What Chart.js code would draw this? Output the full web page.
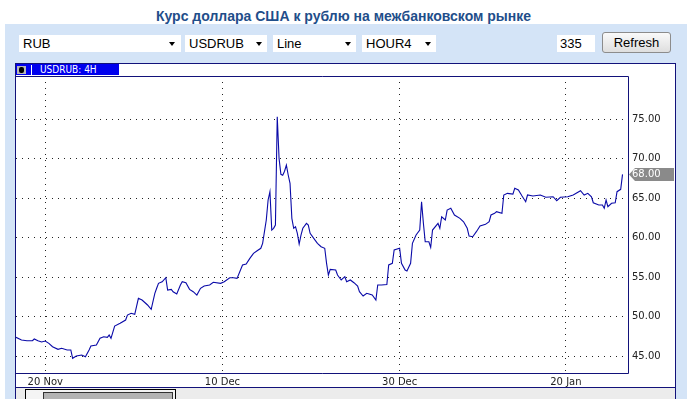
<!DOCTYPE html>
<html>
<head>
<meta charset="utf-8">
<script src="https://cdn.jsdelivr.net/npm/chart.js@4.4.1/dist/chart.umd.min.js"></script>
<style>
body { margin: 0; width: 687px; height: 399px; overflow: hidden; position: relative; background: #fff; font-family: Arial, "Liberation Sans", sans-serif; }
#title { position: absolute; left: 0; top: 8px; width: 687px; text-align: center; font: bold 14px Arial, "Liberation Sans", sans-serif; color: #1f4e8a; }
#blue { position: absolute; left: 5px; top: 24px; width: 682px; height: 375px; background: #d4e4f7; }
.sel, .inp { position: absolute; top: 35px; height: 17px; background: #fff; font-size: 13px; line-height: 17px; color: #000; }
.sel span, .inp span { position: absolute; left: 4px; top: 0; }
.arr { position: absolute; top: 7px; width: 0; height: 0; border-left: 3.5px solid transparent; border-right: 3.5px solid transparent; border-top: 4px solid #000; }
#btn { position: absolute; left: 602px; top: 32px; width: 69px; height: 21px; box-sizing: border-box; border: 1px solid #8c8c8c; border-radius: 3px; background: linear-gradient(#fafafa, #dedede); font-size: 13px; line-height: 19px; text-align: center; color: #000; }
#panel { position: absolute; left: 15px; top: 63px; width: 661px; height: 400px; box-sizing: border-box; border: 1px solid #12127a; background: #fff; }
#head { position: absolute; left: 16px; top: 64px; width: 103px; height: 11px; background: #0000ee; }
#icon { position: absolute; left: 17px; top: 66px; width: 9px; height: 8px; background: #b8b8b8; }
#icon i { position: absolute; left: 2px; top: 1px; width: 5px; height: 6px; border-radius: 2px; background: #000; }
#sep { position: absolute; left: 31px; top: 65px; width: 1px; height: 10px; background: #fff; }
#htxt { position: absolute; left: 40px; top: 63px; font: 10px "DejaVu Sans Condensed", "DejaVu Sans", sans-serif; line-height: 13px; color: #fff; }
#c { position: absolute; left: 16px; top: 76px; }
#scroll { position: absolute; left: 16px; top: 387px; width: 659px; height: 12px; border-top: 1px solid #12127a; background: #ececec; }
#thumb { position: absolute; left: 25px; top: 389px; width: 151px; height: 12px; box-sizing: border-box; border: 1px solid #000; background: #f4f4f4; }
#thumb i { position: absolute; left: 17px; top: 2px; width: 130px; height: 8px; box-sizing: border-box; border: 1px solid #333; background: #b4b4b4; }
</style>
</head>
<body>
<div id="title">Курс доллара США к рублю на межбанковском рынке</div>
<div id="blue"></div>
<div class="sel" style="left:19px;width:162px"><span>RUB</span><div class="arr" style="left:150px"></div></div>
<div class="sel" style="left:185px;width:82px"><span>USDRUB</span><div class="arr" style="left:71px"></div></div>
<div class="sel" style="left:273px;width:83px"><span>Line</span><div class="arr" style="left:72px"></div></div>
<div class="sel" style="left:362px;width:74px"><span>HOUR4</span><div class="arr" style="left:63px"></div></div>
<div class="inp" style="left:557px;width:38px"><span style="left:3px">335</span></div>
<div id="btn">Refresh</div>
<div id="panel"></div>
<div id="head"></div>
<div id="icon"><i></i></div>
<div id="sep"></div>
<div id="htxt">USDRUB: 4H</div>
<canvas id="c" width="659" height="311"></canvas>
<div id="scroll"></div>
<div id="thumb"><i></i></div>
<script>
// bar number (4H bars, 335 shown) and close price
var bars = [0, 3, 6, 9, 10, 12, 14, 16, 18, 20, 23, 25, 28, 30, 31, 33, 36, 38, 40, 41,
	44, 46, 48, 50, 51, 52, 54, 57, 60, 61, 63, 65, 67, 69, 72, 74, 76, 77, 78, 80,
	82, 83, 85, 86, 88, 90, 91, 93, 95, 97, 99, 101, 103, 106, 108, 112, 114, 117, 119, 121,
	124, 126, 128, 130, 132, 134, 135, 136, 137, 138, 139, 140, 141, 142, 143, 144, 145, 146, 147, 148,
	149, 150, 151, 152, 153, 154, 155, 156, 157, 159, 160, 161, 163, 165, 167, 169, 170, 171, 172, 175,
	176, 178, 180, 181, 183, 185, 187, 188, 190, 192, 195, 197, 198, 200, 203, 204, 206, 207, 210, 211,
	213, 214, 216, 217, 219, 221, 222, 223, 224, 226, 227, 228, 231, 232, 233, 235, 236, 238, 240, 243,
	245, 247, 248, 250, 252, 254, 257, 259, 260, 262, 263, 266, 267, 269, 272, 273, 275, 277, 279, 280,
	283, 287, 290, 294, 296, 298, 302, 305, 309, 311, 313, 315, 316, 319, 321, 322, 323, 324, 326, 328,
	329, 331, 332];
var closes = [47.39, 47.05, 46.96, 46.96, 47.18, 46.96, 46.80, 46.92, 46.63, 46.20, 45.87, 46.00, 45.79, 45.79, 44.74, 45.03, 45.15, 44.94, 45.79, 46.29,
	46.42, 47.27, 47.47, 47.39, 47.68, 47.27, 48.82, 49.16, 49.58, 50.21, 50.43, 50.30, 52.32, 52.11, 51.48, 50.93, 52.96, 53.59, 54.22, 54.42,
	54.93, 53.37, 53.46, 53.16, 52.87, 54.01, 54.42, 54.30, 53.46, 53.16, 52.74, 53.59, 53.88, 54.01, 54.35, 54.22, 54.42, 54.93, 54.93, 54.85,
	56.54, 56.66, 57.38, 58.01, 58.34, 58.65, 59.28, 60.75, 62.23, 64.76, 65.81, 60.96, 61.18, 61.59, 75.29, 70.00, 68.00, 67.90, 68.40, 69.18,
	67.92, 66.87, 62.44, 61.18, 61.38, 60.54, 59.19, 60.33, 61.18, 61.81, 61.59, 60.54, 59.91, 59.28, 58.85, 58.65, 56.75, 55.27, 55.99, 55.90,
	55.27, 54.64, 55.06, 54.42, 54.64, 54.30, 53.88, 53.16, 52.61, 52.96, 52.74, 52.11, 54.01, 54.01, 54.07, 56.54, 56.75, 58.43, 58.65, 56.75,
	55.90, 55.78, 56.75, 59.28, 60.33, 60.96, 64.54, 61.81, 59.48, 59.48, 58.77, 60.96, 61.81, 61.18, 62.64, 62.23, 63.49, 63.71, 62.86, 62.44,
	62.01, 61.18, 60.20, 60.11, 60.75, 61.47, 61.68, 62.01, 62.86, 63.07, 63.28, 63.07, 65.39, 65.60, 65.51, 66.24, 66.02, 65.26, 64.54, 65.39,
	65.26, 65.39, 65.10, 65.17, 64.67, 65.10, 65.17, 65.39, 65.93, 65.39, 65.60, 65.17, 64.41, 64.12, 64.12, 63.71, 64.76, 63.91, 64.34, 64.41,
	65.81, 66.11, 68.00];
var tickBars = [16, 113, 210, 301];
var tickLabels = ['20 Nov', '10 Dec', '30 Dec', '20 Jan'];
var priceTicks = [45, 50, 55, 60, 65, 70, 75];

var axisFont = {family: '"DejaVu Sans", sans-serif', size: 10};

// plot frame on top/right/bottom and the grey last-price tag
var framePlugin = {
	id: 'frame',
	afterDraw: function(chart) {
		var ctx = chart.ctx;
		var a = chart.chartArea;
		ctx.save();
		ctx.strokeStyle = '#12127a';
		ctx.lineWidth = 1;
		ctx.beginPath();
		ctx.moveTo(a.left, a.top + 0.5);
		ctx.lineTo(a.right + 0.5, a.top + 0.5);
		ctx.lineTo(a.right + 0.5, a.bottom + 0.5);
		ctx.lineTo(a.left, a.bottom + 0.5);
		ctx.stroke();

		var last = closes[closes.length - 1];
		var py = Math.round(chart.scales.y.getPixelForValue(last)) + 0.5;
		var x0 = a.right + 1;
		ctx.fillStyle = '#8a8a8a';
		ctx.beginPath();
		ctx.moveTo(x0, py);
		ctx.lineTo(x0 + 6, py - 6.5);
		ctx.lineTo(x0 + 45, py - 6.5);
		ctx.lineTo(x0 + 45, py + 6.5);
		ctx.lineTo(x0 + 6, py + 6.5);
		ctx.closePath();
		ctx.fill();
		ctx.fillStyle = '#fff';
		ctx.font = '10px "DejaVu Sans", sans-serif';
		ctx.textBaseline = 'middle';
		ctx.textAlign = 'left';
		ctx.fillText(last.toFixed(2), a.right + 4, py);
		ctx.restore();
	}
};

var ctx = document.getElementById('c').getContext('2d');
new Chart(ctx, {
	type: 'line',
	data: {
		datasets: [{
			label: 'USDRUB',
			data: bars.map(function(b, i) { return {x: b, y: closes[i]}; }),
			borderColor: '#0a0aa8',
			borderWidth: 1.1,
			pointRadius: 0,
			tension: 0,
			fill: false
		}]
	},
	options: {
		responsive: false,
		animation: false,
		devicePixelRatio: 1,
		layout: {padding: 0},
		plugins: {
			legend: {display: false},
			tooltip: {enabled: false}
		},
		scales: {
			x: {
				type: 'linear',
				min: 0,
				max: 335,
				afterBuildTicks: function(scale) {
					scale.ticks = tickBars.map(function(v) { return {value: v}; });
				},
				afterFit: function(scale) {
					scale.height = 14;
					scale.paddingLeft = 0;
					scale.paddingRight = 0;
				},
				grid: {color: '#222', lineWidth: 1, drawTicks: false},
				border: {display: false, dash: [1, 5]},
				ticks: {
					autoSkip: false,
					maxRotation: 0,
					padding: 3,
					color: '#222',
					font: axisFont,
					callback: function(v, i) { return tickLabels[i]; }
				}
			},
			y: {
				position: 'right',
				min: 42.88,
				max: 80.44,
				afterBuildTicks: function(scale) {
					scale.ticks = priceTicks.map(function(v) { return {value: v}; });
				},
				afterFit: function(scale) {
					scale.width = 47;
					scale.paddingTop = 0;
					scale.paddingBottom = 0;
				},
				grid: {color: '#222', lineWidth: 1, drawTicks: false},
				border: {display: false, dash: [1, 5]},
				ticks: {
					padding: 4,
					color: '#222',
					font: axisFont,
					callback: function(v) { return v.toFixed(2); }
				}
			}
		}
	},
	plugins: [framePlugin]
});
</script>
</body>
</html>
